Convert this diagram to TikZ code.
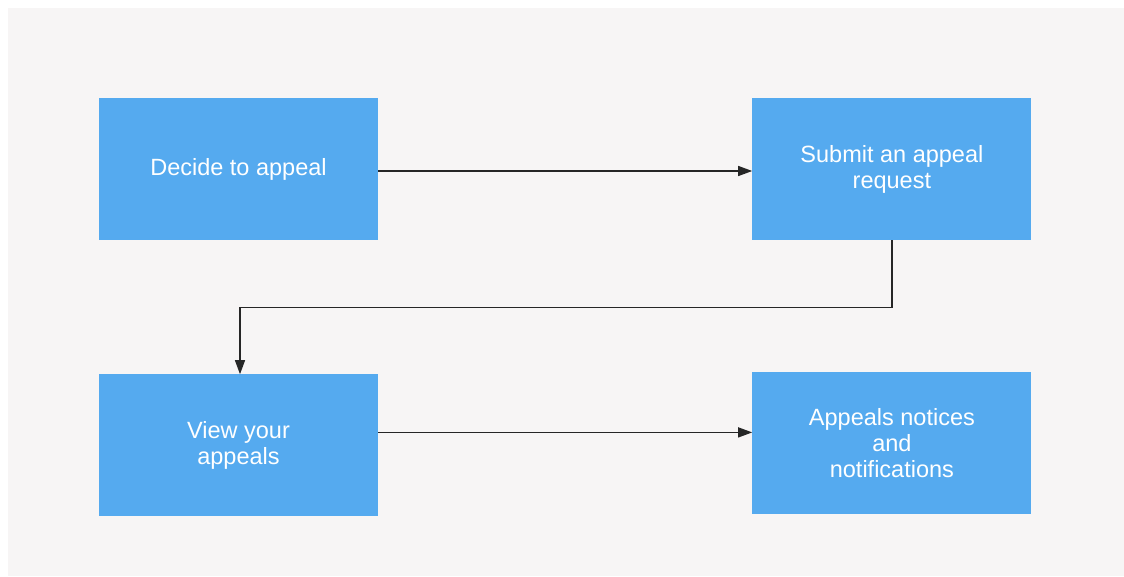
\documentclass[tikz,border=0pt]{standalone}
\usepackage{fontspec}
\setmainfont{Liberation Sans}
\usetikzlibrary{positioning,arrows.meta}
\definecolor{boxblue}{HTML}{55AAEF}
\definecolor{backgray}{HTML}{F7F5F5}
\begin{document}
\begin{tikzpicture}[x=1pt, y=-1pt, node distance=134pt and 374pt,
    box/.style={fill=boxblue, minimum width=279pt, minimum height=142pt, inner sep=0pt,
                text=white, align=center, font=\fontsize{23.5}{26}\selectfont},
    link/.style={-{Triangle[length=14pt,width=10pt]}, line width=1.3pt, draw=black!85}]
            \useasboundingbox (0,0) rectangle (1124,576);
            \fill[backgray] (8,8) rectangle (1124,576);
            \node[box] (1) at (238.5,169) {Decide to appeal};
            \node[box] (2) [right=of 1] {Submit an appeal\\request};
            \node[box] (3) [below=of 1] {View your\\appeals};
            \node[box] (4) [right=of 3, yshift=2pt] {Appeals notices\\and\\notifications};
            \path
            ([yshift=-2pt]1.east) edge[link] ([yshift=-2pt]2.west)
            ([yshift=13pt]3.east) edge[link] ([yshift=11pt]4.west);
            \draw[link] (2.south) -- ++(0,67) -| ([xshift=1.5pt]3.north);
        \end{tikzpicture}
\end{document}
